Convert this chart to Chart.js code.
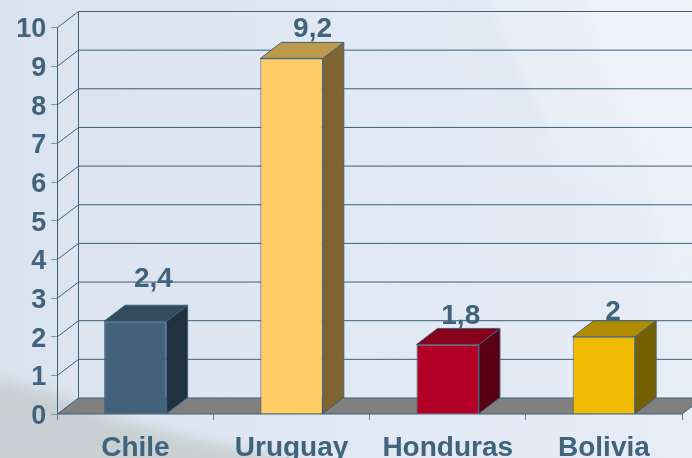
<!DOCTYPE html>
<html>
<head>
<meta charset="utf-8">
<style>
html,body{margin:0;padding:0;width:692px;height:458px;overflow:hidden;background:#e0e8f3}
#wrap{position:absolute;left:0;top:0;width:692px;height:458px;overflow:hidden;
background:linear-gradient(90deg,#dbe3ee 0%,#dde5f0 25%,#e1e9f4 55%,#e4ebf5 80%,#e8eef6 100%);}
.b{position:absolute;left:-40px;top:-40px;width:772px;height:538px}
.b i{position:absolute;left:0;top:0;width:100%;height:100%;display:block}
#light{filter:blur(7px)}
#light i{background:linear-gradient(180deg,#f0f4f9,#eaf0f7 60%,#e6ecf5);
clip-path:polygon(620px 0,772px 0,772px 380px,715px 330px,680px 200px,640px 100px)}
#soft{filter:blur(16px);opacity:.6}
#soft i{background:#eef3f8;clip-path:polygon(460px 0,640px 0,680px 170px,690px 240px,600px 190px,520px 110px)}
#streak{filter:blur(7px);opacity:.35}
#streak i{background:#d3deea;clip-path:polygon(450px 0,510px 0,570px 130px,595px 185px,540px 140px)}
#hill{filter:blur(6px)}
#hill i{background:linear-gradient(180deg,#c2cbd0,#c9d1d3);
clip-path:polygon(0 418px,40px 420px,90px 432px,150px 458px,230px 478px,340px 502px,340px 538px,0 538px)}
canvas{position:absolute;left:0;top:0}
</style>
</head>
<body>
<div id="wrap">
<div class="b" id="soft"><i></i></div>
<div class="b" id="streak"><i></i></div>
<div class="b" id="light"><i></i></div>
<div class="b" id="hill"><i></i></div>
</div>
<canvas id="c" width="692" height="458"></canvas>
<script src="https://cdn.jsdelivr.net/npm/chart.js@4"></script>
<script>
const categories = ["Chile", "Uruguay", "Honduras", "Bolivia"];
const values = [2.4, 9.2, 1.8, 2];
const valueLabels = ["2,4", "9,2", "1,8", "2"];
const tickValues = [0,1,2,3,4,5,6,7,8,9,10];

const frontColors = ["#41627a", "#ffcc66", "#b30026", "#f0bb00"];
const topColors = ["#304b5e", "#bd9a4a", "#860019", "#b18b00"];
const sideColors = ["#20323f", "#7f6330", "#5a0013", "#756000"];
const labelLift = [42, 29, 28, 24];
const labelShift = [18, 21, 13, 9];

const DX = 21, DY = -16;
const LINE = "#3f6079", TEXT = "#41637c", FLOOR = "#808080";
const FONT = '"Liberation Sans", Arial, sans-serif';

const depthPlugin = {
  id: "depth",
  beforeDatasetsDraw(chart) {
    const { ctx, scales: { x, y } } = chart;
    const L = x.left, R = x.right;
    const y0 = y.getPixelForValue(0), yT = y.getPixelForValue(10);
    ctx.save();
    // floor
    ctx.fillStyle = FLOOR;
    ctx.beginPath();
    ctx.moveTo(L, y0); ctx.lineTo(L + DX, y0 + DY); ctx.lineTo(R + DX, y0 + DY); ctx.lineTo(R, y0);
    ctx.closePath(); ctx.fill();
    // back wall and side wall
    ctx.strokeStyle = LINE; ctx.lineWidth = 1;
    ctx.beginPath();
    ctx.moveTo(L + .2, y0); ctx.lineTo(L + .2, yT);
    ctx.moveTo(L + DX + .2, y0 + DY); ctx.lineTo(L + DX + .2, yT + DY);
    tickValues.forEach(v => {
      const p = y.getPixelForValue(v);
      ctx.moveTo(L + .2, p); ctx.lineTo(L + DX + .2, p + DY);
      ctx.lineTo(R + DX, p + DY);
    });
    ctx.moveTo(R, y0); ctx.lineTo(R + DX, y0 + DY);
    ctx.moveTo(L, y0); ctx.lineTo(R, y0);
    ctx.stroke();
    // bar sides and tops
    chart.getDatasetMeta(0).data.forEach((bar, i) => {
      const l = bar.x - bar.width / 2, r = bar.x + bar.width / 2, t = bar.y, b = bar.base;
      ctx.strokeStyle = LINE;
      ctx.fillStyle = sideColors[i];
      ctx.beginPath();
      ctx.moveTo(r, t); ctx.lineTo(r + DX, t + DY); ctx.lineTo(r + DX, b + DY); ctx.lineTo(r, b);
      ctx.closePath(); ctx.fill(); ctx.stroke();
      ctx.fillStyle = topColors[i];
      ctx.beginPath();
      ctx.moveTo(l, t); ctx.lineTo(l + DX, t + DY); ctx.lineTo(r + DX, t + DY); ctx.lineTo(r, t);
      ctx.closePath(); ctx.fill(); ctx.stroke();
    });
    ctx.restore();
  },
  afterDatasetsDraw(chart) {
    const { ctx } = chart;
    ctx.save();
    ctx.fillStyle = TEXT;
    ctx.font = "bold 28px " + FONT;
    ctx.textAlign = "center";
    ctx.textBaseline = "middle";
    chart.getDatasetMeta(0).data.forEach((bar, i) => {
      ctx.fillText(valueLabels[i], bar.x + labelShift[i], bar.y - labelLift[i]);
    });
    ctx.restore();
  }
};

new Chart(document.getElementById("c"), {
  type: "bar",
  data: {
    labels: categories,
    datasets: [{
      data: values,
      backgroundColor: frontColors,
      borderColor: LINE,
      borderWidth: 1,
      barPercentage: 0.4,
      categoryPercentage: 1
    }]
  },
  plugins: [depthPlugin],
  options: {
    responsive: false,
    animation: false,
    devicePixelRatio: 1,
    layout: { padding: { top: 27.5, right: 10, bottom: 0, left: 0 } },
    plugins: { legend: { display: false }, tooltip: { enabled: false } },
    scales: {
      x: {
        afterFit(s) { s.height = 44; },
        grid: { drawOnChartArea: false, color: "#5f7d93", tickLength: 6, offset: true },
        border: { display: false },
        ticks: { color: TEXT, font: { family: FONT, size: 28, weight: "bold" }, padding: 11, maxRotation: 0, autoSkip: false }
      },
      y: {
        min: 0, max: 10,
        afterFit(s) {
          s.width = 57.3;
          if (!s._shifted) {
            s._shifted = true;
            const draw = s.drawLabels;
            s.drawLabels = function (area) {
              const c = this.ctx;
              c.save(); c.translate(0, 2.5);
              draw.call(this, area);
              c.restore();
            };
          }
        },
        afterBuildTicks(s) { s.ticks = tickValues.map(v => ({ value: v })); },
        grid: { drawOnChartArea: false, color: "#7f97aa", tickLength: 6 },
        border: { display: false },
        ticks: { color: TEXT, font: { family: FONT, size: 27, weight: "bold" }, padding: 5 }
      }
    }
  }
});
</script>
</body>
</html>
